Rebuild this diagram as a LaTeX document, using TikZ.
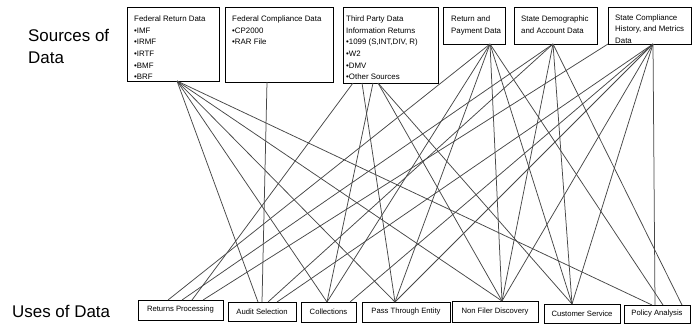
\documentclass[tikz,border=0pt]{standalone}
\usepackage{fontspec}
\setmainfont{Liberation Sans}
\begin{document}
\begin{tikzpicture}[x=1bp,y=-1bp,
  srcbox/.style={draw=black,line width=0.9bp,anchor=north west,inner sep=0,outer sep=0},
  srctext/.style={anchor=north west,inner sep=0,align=left,font=\fontsize{7.9}{11.67}\selectfont},
  usebox/.style={draw=black,line width=0.9bp,anchor=north west,inner sep=0,outer sep=0,font=\fontsize{7.7}{9}\selectfont},
  biglabel/.style={anchor=west,inner sep=0,align=left,font=\fontsize{17}{22}\selectfont},
  link/.style={draw=black!72,line width=0.75bp}]
\useasboundingbox (0,0) rectangle (692,323);

% left labels
\node[biglabel] (srclab) at (28,46) {Sources of\\Data};
\node[biglabel] (uselab) at (12,311) {Uses of Data};

% source boxes
\node[srcbox,minimum width=92bp,minimum height=74bp] (s1) at (127,7) {};
\node[srctext] (s1t) at (134,15.6) {Federal Return Data\\\textbullet IMF\\\textbullet IRMF\\\textbullet IRTF\\\textbullet BMF\\\textbullet BRF};
\node[srcbox,minimum width=108bp,minimum height=75bp] (s2) at (225,7) {};
\node[srctext] (s2t) at (232,15.6) {Federal Compliance Data\\\textbullet CP2000\\\textbullet RAR File};
\node[srcbox,minimum width=95bp,minimum height=76bp] (s3) at (343,7) {};
\node[srctext] (s3t) at (346,15.6) {Third Party Data\\Information Returns\\\textbullet 1099 (S,INT,DIV, R)\\\textbullet W2\\\textbullet DMV\\\textbullet Other Sources};
\node[srcbox,minimum width=62bp,minimum height=37bp] (s4) at (443,7) {};
\node[srctext] (s4t) at (451,15.6) {Return and\\Payment Data};
\node[srcbox,minimum width=83bp,minimum height=37bp] (s5) at (514,7) {};
\node[srctext] (s5t) at (521,15.6) {State Demographic\\and Account Data};
\node[srcbox,minimum width=83bp,minimum height=37bp] (s6) at (608,7) {};
\node[srctext] (s6t) at (615,14.4) {State Compliance\\History, and Metrics\\Data};

% use boxes
\node[usebox,minimum width=85bp,minimum height=20bp] (t1) at (138,300) {Returns Processing};
\node[usebox,minimum width=68bp,minimum height=19bp] (t2) at (228,302) {Audit Selection};
\node[usebox,minimum width=55bp,minimum height=20bp] (t3) at (301,302) {Collections};
\node[usebox,minimum width=88bp,minimum height=20bp] (t4) at (362,302) {Pass Through Entity};
\node[usebox,minimum width=86bp,minimum height=21bp] (t5) at (452,301) {Non Filer Discovery};
\node[usebox,minimum width=76bp,minimum height=19bp] (t6) at (544,304) {Customer Service};
\node[usebox,minimum width=66bp,minimum height=18bp] (t7) at (624,305) {Policy Analysis};

% Federal Return Data
\draw[link] ([xshift=50bp]s1.south west) -- ([xshift=30bp]t2.north west);
\draw[link] ([xshift=50bp]s1.south west) -- ([xshift=26bp]t3.north west);
\draw[link] ([xshift=50bp]s1.south west) -- ([xshift=33bp]t4.north west);
\draw[link] ([xshift=50bp]s1.south west) -- ([xshift=50bp]t5.north west);
\draw[link] ([xshift=50bp]s1.south west) -- ([xshift=28bp]t7.north west);
% Federal Compliance Data
\draw[link] ([xshift=42bp]s2.south west) -- ([xshift=34bp]t2.north west);
% Third Party
\draw[link] ([xshift=10bp]s3.south west) -- ([xshift=54bp]t1.north west);
\draw[link] ([xshift=19bp]s3.south west) -- ([xshift=33bp]t4.north west);
\draw[link] ([xshift=30bp]s3.south west) -- ([xshift=26bp]t3.north west);
\draw[link] ([xshift=35bp]s3.south west) -- ([xshift=50bp]t5.north west);
\draw[link] ([xshift=35bp]s3.south west) -- ([xshift=28bp]t6.north west);
% Return and Payment
\draw[link] ([xshift=47bp]s4.south west) -- ([xshift=30bp]t1.north west);
\draw[link] ([xshift=47bp]s4.south west) -- ([xshift=26bp]t3.north west);
\draw[link] ([xshift=47bp]s4.south west) -- ([xshift=33bp]t4.north west);
\draw[link] ([xshift=47bp]s4.south west) -- ([xshift=50bp]t5.north west);
\draw[link] ([xshift=47bp]s4.south west) -- ([xshift=28bp]t6.north west);
\draw[link] ([xshift=47bp]s4.south west) -- ([xshift=39bp]t7.north west);
% State Demographic
\draw[link] ([xshift=39bp]s5.south west) -- ([xshift=44bp]t1.north west);
\draw[link] ([xshift=39bp]s5.south west) -- ([xshift=40bp]t2.north west);
\draw[link] ([xshift=39bp]s5.south west) -- ([xshift=50bp]t5.north west);
\draw[link] ([xshift=39bp]s5.south west) -- ([xshift=28bp]t6.north west);
\draw[link] ([xshift=39bp]s5.south west) -- ([xshift=58bp]t7.north west);
% State Compliance
\draw[link] ([xshift=45bp]s6.south west) -- ([xshift=49bp]t2.north west);
\draw[link] ([xshift=45bp]s6.south west) -- ([xshift=49bp]t3.north west);
\draw[link] ([xshift=45bp]s6.south west) -- ([xshift=33bp]t4.north west);
\draw[link] ([xshift=45bp]s6.south west) -- ([xshift=50bp]t5.north west);
\draw[link] ([xshift=45bp]s6.south west) -- ([xshift=28bp]t6.north west);
\draw[link] ([xshift=45bp]s6.south west) -- ([xshift=31bp]t7.north west);
\draw[link] (s6.south west) -- ([xshift=65bp]t1.north west);
\end{tikzpicture}
\end{document}
